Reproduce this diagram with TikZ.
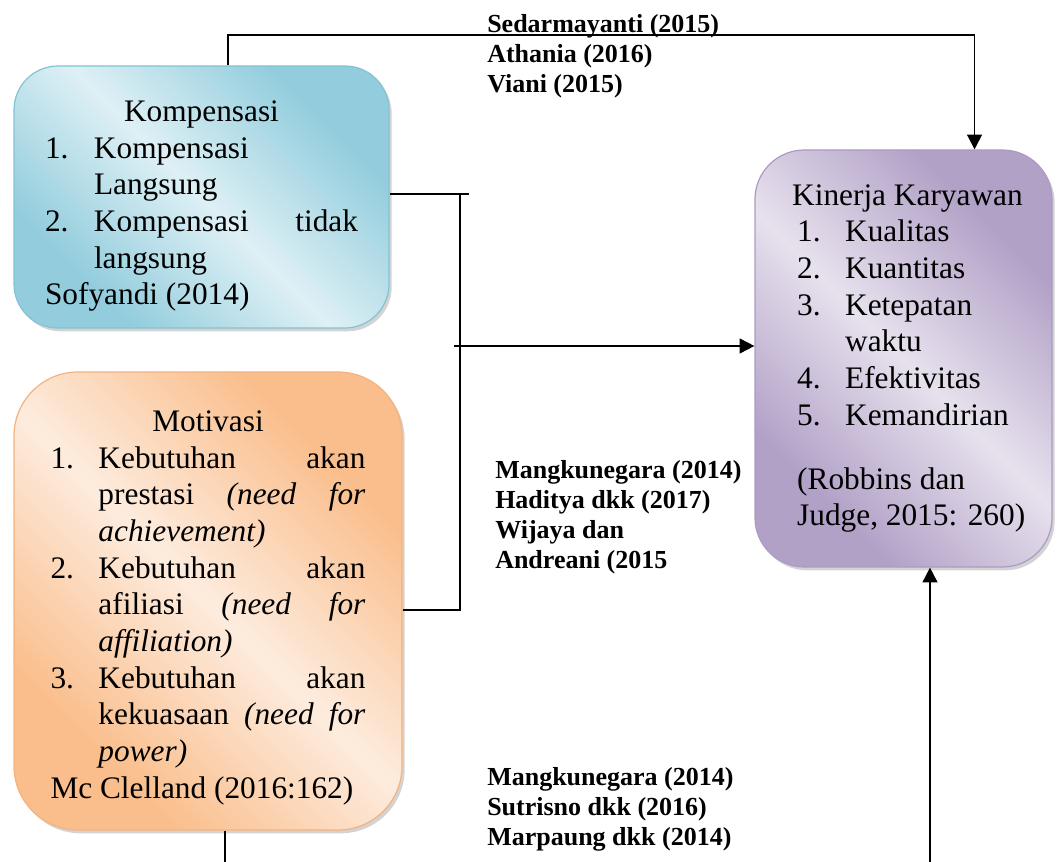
\documentclass[tikz,border=0pt]{standalone}
\usepackage{fontspec}
\setmainfont{Liberation Serif}
\usetikzlibrary{calc}
\usetikzlibrary{arrows.meta}
\usetikzlibrary{shadows}

\definecolor{kompdark}{RGB}{147,205,221}
\definecolor{komplight}{RGB}{222,240,245}
\definecolor{kompline}{RGB}{130,195,213}
\definecolor{motdark}{RGB}{250,190,140}
\definecolor{motlight}{RGB}{253,236,222}
\definecolor{motline}{RGB}{246,178,124}
\definecolor{kindark}{RGB}{178,161,199}
\definecolor{kinlight}{RGB}{231,225,237}
\definecolor{kinline}{RGB}{172,154,194}

\pgfdeclarehorizontalshading{kompshade}{100bp}{color(0bp)=(kompdark); color(28bp)=(kompdark); color(50bp)=(komplight); color(72bp)=(kompdark); color(100bp)=(kompdark)}
\pgfdeclarehorizontalshading{motshade}{100bp}{color(0bp)=(motdark); color(28bp)=(motdark); color(50bp)=(motlight); color(72bp)=(motdark); color(100bp)=(motdark)}
\pgfdeclarehorizontalshading{kinshade}{100bp}{color(0bp)=(kindark); color(28bp)=(kindark); color(50bp)=(kinlight); color(72bp)=(kindark); color(100bp)=(kindark)}

\newlength{\numw}
\newcommand{\nline}[2]{\hbox to \hsize{\hbox to \numw{#1\hfil}#2}}

\begin{document}
\begin{tikzpicture}[x=0.75pt, y=-0.75pt,
  box/.style={rounded corners=#1, line width=0.9pt, shading angle=45, inner sep=0pt,
    drop shadow={shadow xshift=2pt, shadow yshift=-2.5pt, opacity=0.35},
    font={\fontsize{23.5}{27.5}\selectfont}},
  cites/.style={inner sep=0pt, font={\bfseries\fontsize{19.5}{22.5}\selectfont}},
  link/.style={line width=1.4pt},
  arrow/.style={line width=1.4pt, -{Triangle[length=11pt, width=11pt]}}]

  \useasboundingbox (0,0) rectangle (1057,862);

  % variabel
  \node[box=33pt, draw=kompline, shading=kompshade, minimum width=281.25pt, minimum height=196.5pt] (komp) at (201.5,197) {\vbox{\hsize=234.75pt \numw=36.75pt \vskip 14pt
    \hbox to \hsize{\hfil Kompensasi\hfil}
    \nline{1.}{Kompensasi\hfil}
    \nline{}{Langsung\hfil}
    \nline{2.}{Kompensasi\hfill tidak}
    \nline{}{langsung\hfil}
    \hbox to \hsize{Sofyandi (2014)\hss}}};

  \node[box=48pt, draw=motline, shading=motshade, minimum width=291pt, minimum height=343.5pt] (mot) at (208,601) {\vbox{\hsize=236.25pt \numw=36pt \vskip 10pt
    \hbox to \hsize{\hfil Motivasi\hfil}
    \nline{1.}{Kebutuhan\hfill akan}
    \nline{}{prestasi\hfill\textit{(need}\hfill\textit{for}}
    \nline{}{\textit{achievement)}\hfil}
    \nline{2.}{Kebutuhan\hfill akan}
    \nline{}{afiliasi\hfill\textit{(need}\hfill\textit{for}}
    \nline{}{\textit{affiliation)}\hfil}
    \nline{3.}{Kebutuhan\hfill akan}
    \nline{}{kekuasaan\hfill\textit{(need}\hfill\textit{for}}
    \nline{}{\textit{power)}\hfil}
    \hbox to \hsize{Mc Clelland (2016:162)\hss}}};

  \node[box=37pt, draw=kinline, shading=kinshade, minimum width=222.75pt, minimum height=312.75pt] (kin) at (903.5,358.5) {\vbox{\hsize=167pt \numw=39.75pt
    \hbox to \hsize{Kinerja Karyawan\hss}
    \nline{\hspace{3.75pt}1.}{Kualitas\hfil}
    \nline{\hspace{3.75pt}2.}{Kuantitas\hfil}
    \nline{\hspace{3.75pt}3.}{Ketepatan\hfil}
    \nline{}{waktu\hfil}
    \nline{\hspace{3.75pt}4.}{Efektivitas\hfil}
    \nline{\hspace{3.75pt}5.}{Kemandirian\hfil}
    \vskip 20.5pt
    \hbox to \hsize{\hspace{3.75pt}(Robbins dan\hss}
    \hbox to \hsize{\hspace{3.75pt}Judge, 2015: 260)\hss}}};

  % garis hubungan
  \coordinate (joint) at (460,194);
  \coordinate (merge) at (454,346);
  \coordinate (motend) at (225,862);
  \coordinate (kinstart) at (930,862);

  \draw[arrow] ([xshift=20pt]komp.north) -- ++(0,-30) -| ([xshift=19.9pt]kin.north -| 948,0);
  \draw[link] ([yshift=2pt]komp.east) -- ++(79,0);
  \draw[link] (joint) |- ([yshift=-6.75pt]mot.east);
  \draw[arrow] (merge) -- (merge -| kin.west);
  \draw[link] (mot.south -| motend) -- (motend);
  \draw[arrow] (kinstart) -- (kinstart |- kin.south);

  % sumber
  \node[cites, anchor=base west] (citekomp) at (487,33) {\vtop{\hbox{Sedarmayanti (2015)}\hbox{Athania (2016)}\hbox{Viani (2015)}}};
  \node[cites, anchor=base west] (citemot) at (495,479) {\vtop{\hbox{Mangkunegara (2014)}\hbox{Haditya dkk (2017)}\hbox{Wijaya dan}\hbox{Andreani (2015}}};
  \node[cites, anchor=base west] (citeall) at (487,785) {\vtop{\hbox{Mangkunegara (2014)}\hbox{Sutrisno dkk (2016)}\hbox{Marpaung dkk (2014)}}};
\end{tikzpicture}
\end{document}
